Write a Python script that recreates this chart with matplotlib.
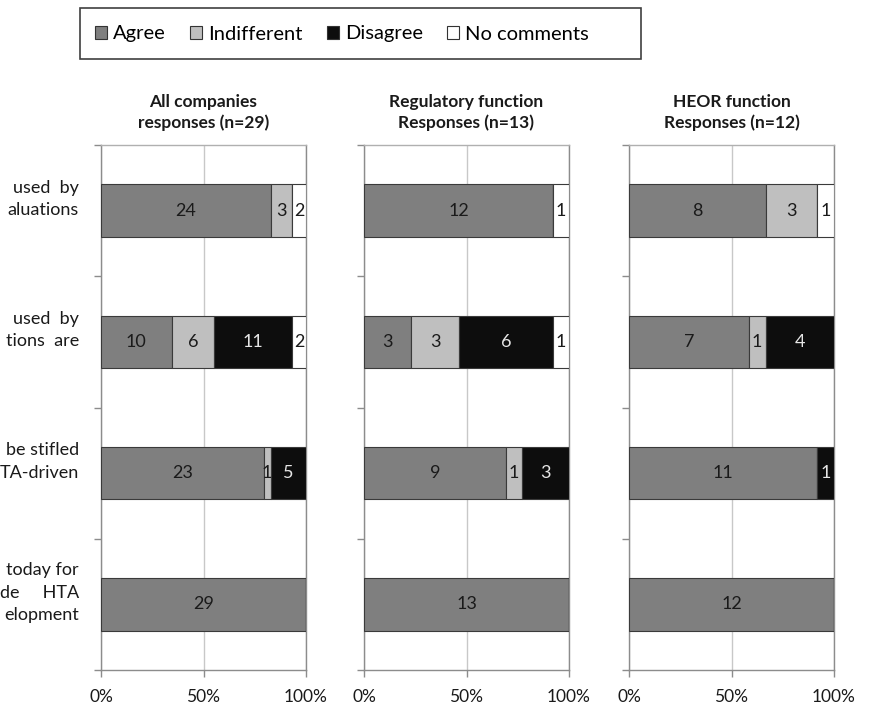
import matplotlib
matplotlib.use("Agg")
import matplotlib.pyplot as plt
from matplotlib.patches import Patch, Rectangle
import numpy as np

plt.rcParams['font.family'] = ['Lato', 'DejaVu Sans']

# question labels (cut off at the left edge in the original figure)
questions = ["used  by\naluations",
             "used  by\ntions  are",
             "be stifled\nTA-driven",
             "today for\nde     HTA\nelopment"]

series = ["Agree", "Indifferent", "Disagree", "No comments"]
colors = ["#7f7f7f", "#bfbfbf", "#0d0d0d", "#ffffff"]
text_colors = ["#1a1a1a", "#1a1a1a", "#e6e6e6", "#1a1a1a"]

titles = ["All companies\nresponses (n=29)",
          "Regulatory function\nResponses (n=13)",
          "HEOR function\nResponses (n=12)"]

# counts per question: agree, indifferent, disagree, no comments
all_agree = [24, 10, 23, 29]
all_indiff = [3, 6, 1, 0]
all_disagree = [0, 11, 5, 0]
all_nocomm = [2, 2, 0, 0]

reg_agree = [12, 3, 9, 13]
reg_indiff = [0, 3, 1, 0]
reg_disagree = [0, 6, 3, 0]
reg_nocomm = [1, 1, 0, 0]

heor_agree = [8, 7, 11, 12]
heor_indiff = [3, 1, 0, 0]
heor_disagree = [0, 4, 1, 0]
heor_nocomm = [1, 0, 0, 0]

panels = [
    [all_agree, all_indiff, all_disagree, all_nocomm],
    [reg_agree, reg_indiff, reg_disagree, reg_nocomm],
    [heor_agree, heor_indiff, heor_disagree, heor_nocomm],
]

fig = plt.figure(figsize=(8.71, 7.09), dpi=100)
lefts = [101 / 871, 364 / 871, 629 / 871]
width = 205 / 871
bottom = 39 / 709
height = 525 / 709
grey = "#8c8c8c"

y = np.arange(len(questions))
for k, data in enumerate(panels):
    ax = fig.add_axes([lefts[k], bottom, width, height])
    counts = np.array(data, dtype=float)
    totals = counts.sum(axis=0)
    pct = counts / totals * 100
    cum = np.zeros(len(questions))
    for s in range(len(series)):
        ax.barh(y, pct[s], left=cum, height=0.4, color=colors[s],
                edgecolor="#3a3a3a", linewidth=0.8, zorder=3)
        for i in range(len(questions)):
            if counts[s][i] > 0:
                ax.text(cum[i] + pct[s][i] / 2, y[i], "%d" % counts[s][i],
                        ha="center", va="center", fontsize=13,
                        color=text_colors[s], zorder=4)
        cum += pct[s]

    ax.set_xlim(0, 100)
    ax.set_ylim(3.5, -0.5)
    ax.set_xticks([0, 50, 100])
    ax.set_xticklabels(["0%", "50%", "100%"])
    ax.set_yticks([-0.5, 0.5, 1.5, 2.5, 3.5])
    ax.set_yticklabels([])
    ax.tick_params(axis="both", colors=grey, length=5, width=1,
                   labelcolor="#1a1a1a", labelsize=12.5)
    ax.tick_params(axis="x", pad=9)
    ax.grid(axis="x", color="#c8c8c8", linewidth=1, zorder=0)
    for sp in ax.spines.values():
        sp.set_color(grey)
        sp.set_linewidth(1)
    ax.spines["top"].set_color("#b0b0b0")
    ax.set_title(titles[k], fontsize=12.5, fontweight="bold", pad=12,
                 linespacing=1.35, color="#1a1a1a")

    if k == 0:
        for i, q in enumerate(questions):
            ax.text(-0.107, y[i] - 0.09, q, ha="right", va="center",
                    fontsize=13, linespacing=1.5, color="#1a1a1a",
                    transform=ax.get_yaxis_transform())

# legend box
fig.patches.append(Rectangle((80 / 871, 1 - 59 / 709), 561 / 871, 51 / 709,
                             transform=fig.transFigure, facecolor="white",
                             edgecolor="#404040", linewidth=1.2))
handles = [Patch(facecolor=c, edgecolor="#333333", linewidth=0.8) for c in colors]
fig.legend(handles, series, loc="center", bbox_to_anchor=(342 / 871, 1 - 34 / 709),
           ncol=4, frameon=False, fontsize=14.5, handlelength=0.6, handleheight=0.6,
           handletextpad=0.3, columnspacing=1.2)

fig.savefig("out.png", dpi=100)
